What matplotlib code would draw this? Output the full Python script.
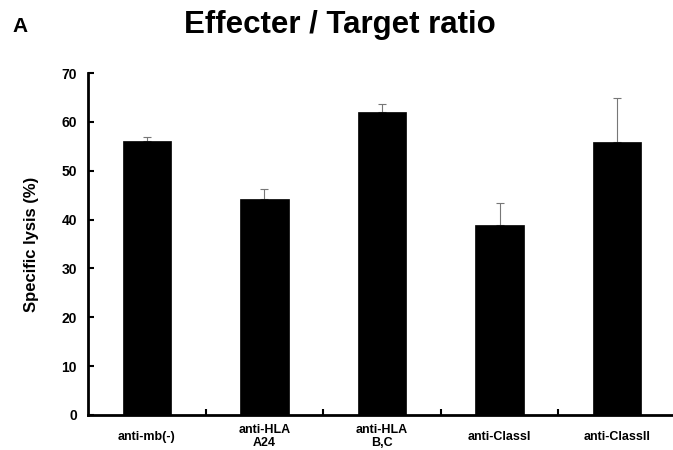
import matplotlib
matplotlib.use("Agg")
import matplotlib.pyplot as plt
import numpy as np

categories = ["anti-mb(-)", "anti-HLA\nA24", "anti-HLA\nB,C", "anti-ClassI", "anti-ClassII"]
lysis = [56.0, 44.2, 62.1, 38.9, 55.9]
err_up = [0.8, 2.1, 1.5, 4.4, 8.9]
yticks = [0, 10, 20, 30, 40, 50, 60, 70]

plt.rcParams['font.family'] = ["Liberation Sans", "DejaVu Sans"]

fig = plt.figure(figsize=(6.73, 4.5), dpi=100)
ax = fig.add_axes([88/673, 1 - 415/450, 588/673, (415 - 73)/450])

x = np.arange(len(categories))
ax.bar(x, lysis, width=0.41, color="black", edgecolor="black", linewidth=0.5, zorder=2)
ax.errorbar(x, lysis, yerr=[np.zeros(len(err_up)), err_up], fmt="none",
            ecolor="#777777", elinewidth=0.8, capsize=3, capthick=0.8, zorder=1)

ax.set_xlim(-0.5, 4.5)
ax.set_ylim(0, 70)
ax.set_yticks(yticks)
ax.set_yticklabels([str(t) for t in yticks], fontsize=10, fontweight="bold")
ax.tick_params(axis="y", direction="in", length=4, width=1.5, pad=8)

ax.set_xticks(x)
ax.set_xticklabels(categories, fontsize=9, fontweight="bold", linespacing=1.1)
ax.tick_params(axis="x", which="major", length=0, pad=15.5)
for lab in ax.get_xticklabels():
    lab.set_va("center")
    lab.set_ha("center")
ax.set_xticks(x[:-1] + 0.5, minor=True)
ax.tick_params(axis="x", which="minor", direction="in", length=4, width=1.5)

for s in ["top", "right"]:
    ax.spines[s].set_visible(False)
for s in ["left", "bottom"]:
    ax.spines[s].set_linewidth(2)

ax.set_ylabel("Specific lysis (%)", fontsize=12, fontweight="bold", labelpad=16)

fig.text(340/673, 1 - 25/450, "Effecter / Target ratio", ha="center", va="center",
         fontsize=22.5, fontweight="bold")
fig.text(20/673, 1 - 26/450, "A", ha="center", va="center", fontsize=15, fontweight="bold")

fig.savefig("out.png", dpi=100)
